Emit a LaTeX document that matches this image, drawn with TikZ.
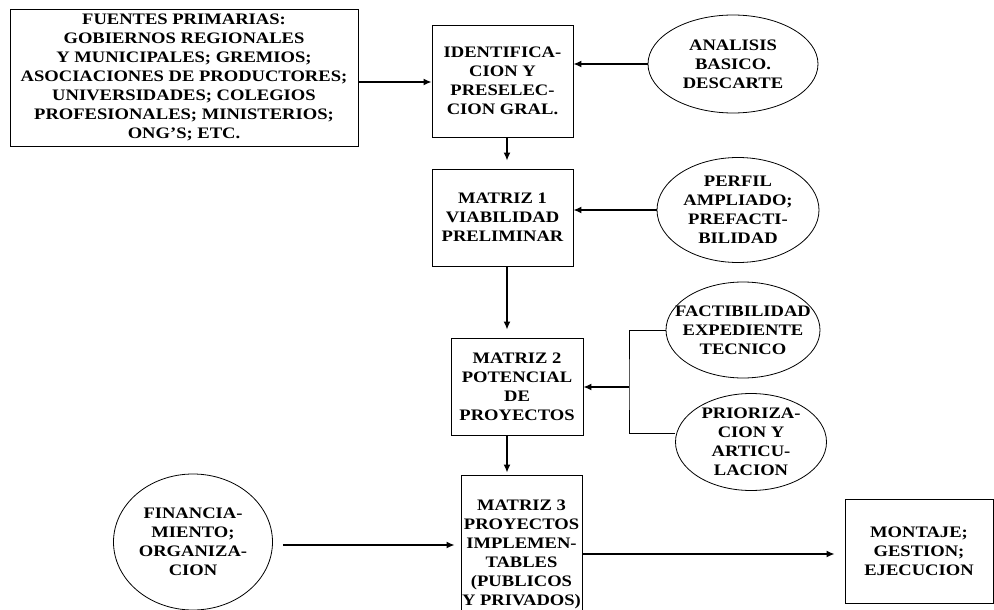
\documentclass[tikz,border=0pt]{standalone}
\usepackage{fontspec}
\setmainfont[FakeStretch=1.16]{Liberation Serif}
\usetikzlibrary{shapes.geometric,arrows.meta}
\begin{document}
\begin{tikzpicture}[x=1pt,y=-1pt,
  texto/.style={align=center,inner sep=0pt,font=\fontsize{16}{19}\selectfont\bfseries},
  caja/.style={texto,draw,rectangle,line width=0.8pt},
  elipse/.style={draw,ellipse,line width=0.8pt},
  flecha/.style={-{Latex[length=8pt,width=7pt]},line width=1.5pt},
  linea/.style={line width=0.8pt}]
\useasboundingbox (0,0) rectangle (994,610);
\clip (0,0) rectangle (994,610);
% Draw boxes
\node[caja,minimum width=348,minimum height=137] (fuentes) at (184,77.5)
  {FUENTES PRIMARIAS:\\GOBIERNOS REGIONALES\\Y MUNICIPALES; GREMIOS;\\ASOCIACIONES DE PRODUCTORES;\\UNIVERSIDADES; COLEGIOS\\PROFESIONALES; MINISTERIOS;\\ONG’S; ETC.};
\node[caja,minimum width=141,minimum height=112] (ident) at (502.5,81)
  {IDENTIFICA-\\CION Y\\PRESELEC-\\CION GRAL.};
\node[caja,minimum width=141,minimum height=97] (matriz1) at (502.5,217.5)
  {MATRIZ 1\\VIABILIDAD\\PRELIMINAR};
\node[caja,minimum width=132,minimum height=97] (matriz2) at (517,386.5)
  {MATRIZ 2\\POTENCIAL\\DE\\PROYECTOS};
\node[caja,minimum width=121,minimum height=158] (matriz3) at (521.5,554)
  {MATRIZ 3\\PROYECTOS\\IMPLEMEN-\\TABLES\\(PUBLICOS\\Y PRIVADOS)};
\node[caja,minimum width=148,minimum height=104] (montaje) at (919,551)
  {MONTAJE;\\GESTION;\\EJECUCION};
% Draw ellipses
\node[elipse,minimum width=170,minimum height=98] (analisis) at (733,64) {};
\node[texto] (analisis-t) at (analisis) {ANALISIS\\BASICO.\\DESCARTE};
\node[elipse,minimum width=162,minimum height=105] (perfil) at (738,210) {};
\node[texto] (perfil-t) at (perfil) {PERFIL\\AMPLIADO;\\PREFACTI-\\BILIDAD};
\node[elipse,minimum width=154,minimum height=96] (factib) at (743,330) {};
\node[texto] (factib-t) at (factib) {FACTIBILIDAD\\EXPEDIENTE\\TECNICO};
\node[elipse,minimum width=151,minimum height=97] (prioriz) at (751,442) {};
\node[texto] (prioriz-t) at (prioriz) {PRIORIZA-\\CION Y\\ARTICU-\\LACION};
\node[elipse,minimum width=159,minimum height=136] (financ) at (193,542) {};
\node[texto] (financ-t) at (financ) {FINANCIA-\\MIENTO;\\ORGANIZA-\\CION};
% Draw arrows
\coordinate (brk) at (629,387);
\draw[flecha] ([yshift=-4.5]fuentes.east) -- ([yshift=-4.5]fuentes.east -| ident.west);
\draw[flecha] (analisis.west) -- (analisis.west -| ident.east);
\draw[flecha] (perfil.west) -- (perfil.west -| matriz1.east);
\draw[flecha,shorten >=8pt] ([xshift=4.5]ident.south) -- ([xshift=4.5]ident.south |- matriz1.north);
\draw[flecha,shorten >=8pt] ([xshift=4.5]matriz1.south) -- ([xshift=4.5]matriz1.south |- matriz2.north);
\draw[flecha,shorten >=2pt] ([xshift=-10]matriz2.south) -- ([xshift=-10]matriz2.south |- matriz3.north);
\draw[linea] (factib.west) -| (brk) |- ([yshift=9]prioriz.west);
\draw[flecha] (brk) -- (brk -| matriz2.east);
\draw[flecha,shorten <=10pt,shorten >=6pt] ([yshift=-3]financ.east) -- ([yshift=-3]financ.east -| matriz3.west);
\draw[flecha,shorten >=10pt] ([yshift=-3]montaje.west -| matriz3.east) -- ([yshift=-3]montaje.west);
\end{tikzpicture}
\end{document}
